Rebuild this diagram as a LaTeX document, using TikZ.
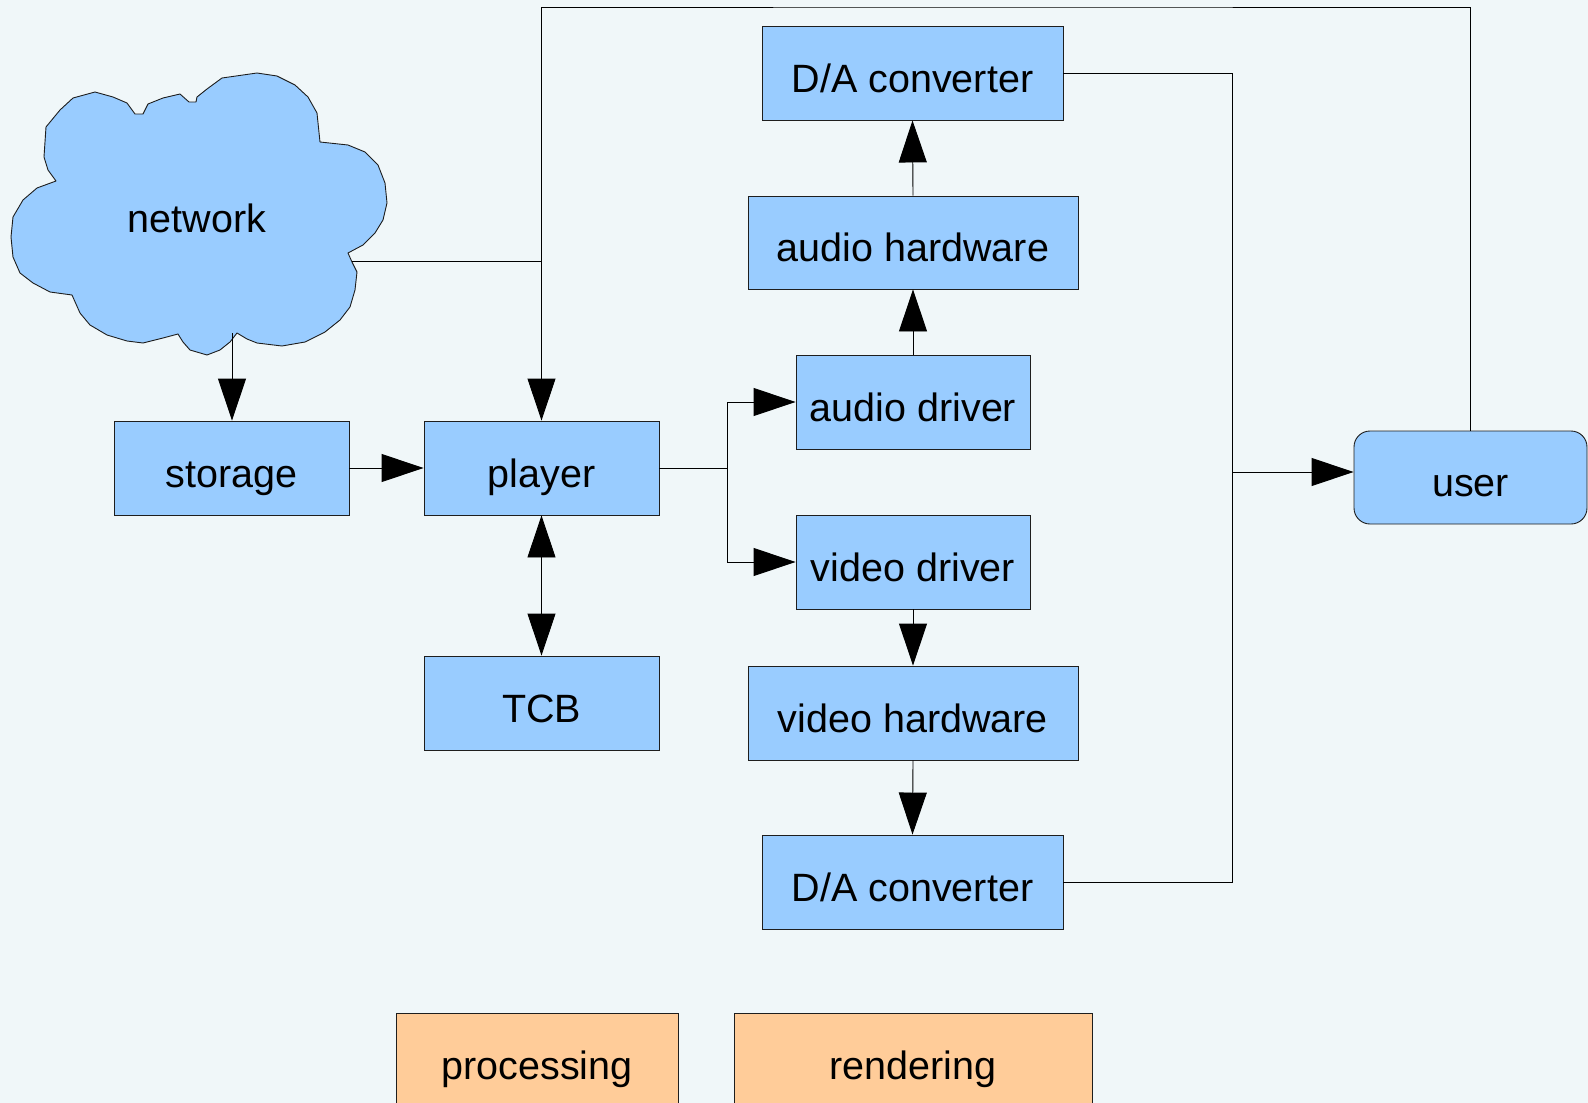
\documentclass[tikz,border=0pt]{standalone}
\usepackage{fontspec}
\setmainfont{Liberation Sans}
\usetikzlibrary{arrows.meta,calc}
\definecolor{bgcol}{RGB}{240,247,249}
\definecolor{boxblue}{RGB}{153,204,255}
\definecolor{boxorange}{RGB}{255,204,153}
\definecolor{edgecol}{RGB}{30,30,30}
\begin{document}
\begin{tikzpicture}[x=1pt,y=-1pt,
  font=\fontsize{39.5}{46}\selectfont,
  blockbox/.style={draw=edgecol,line width=0.9pt,fill=boxblue,inner sep=0pt,minimum height=94pt,text height=38pt,text depth=0pt},
  legendbox/.style={draw=edgecol,line width=0.9pt,fill=boxorange,inner sep=0pt,minimum height=94pt,text height=38pt,text depth=0pt},
  conn/.style={draw=black,line width=0.9pt},
  arr/.style={conn,-{Triangle[length=42pt,width=28pt]}},
  arrtwo/.style={conn,{Triangle[length=42pt,width=28pt]}-{Triangle[length=42pt,width=28pt]}}]
\fill[bgcol] (0,0) rectangle (1588,1103);
\useasboundingbox (0,0) rectangle (1588,1103);

% cloud
\draw[edgecol,line width=0.9pt,fill=boxblue,line join=round]
 (222,78) -- (257,73) -- (277,76) -- (295,85) -- (308,97) -- (317,113) -- (320,142)
 -- (348,145) -- (365,152) -- (378,165) -- (385,183) -- (387,203) -- (383,220)
 -- (375,233) -- (363,245) -- (348,253) -- (352,262) -- (357,272) -- (355,290)
 -- (350,307) -- (340,320) -- (325,332) -- (305,342) -- (282,346) -- (257,343)
 -- (247,339) -- (237,333) -- (230,342) -- (220,350) -- (207,355) -- (190,350)
 -- (183,342) -- (178,334) -- (163,338) -- (143,343) -- (127,341) -- (107,335)
 -- (90,325) -- (80,313) -- (72,295) -- (50,292) -- (33,283) -- (20,273)
 -- (13,257) -- (11,237) -- (13,217) -- (23,200) -- (37,188) -- (56,181)
 -- (48,170) -- (44,157) -- (46,127) -- (60,110) -- (73,98) -- (95,92)
 -- (113,97) -- (127,103) -- (135,114) -- (143,114) -- (148,104) -- (163,98)
 -- (180,94) -- (189,102) -- (196,102) -- (197,97) -- (207,89) -- cycle;
\node (network) at (197,218) {network};
\coordinate (netE) at (352,261);
\coordinate (netS) at (232,333);

% blocks
\node[blockbox,minimum width=301pt] (daTop) at (912.5,73) {D/A converter};
\node[blockbox,minimum width=330pt,minimum height=93pt] (audioHW) at (913,242.5) {audio hardware};
\node[blockbox,minimum width=234pt] (audioDrv) at (913,402) {audio driver};
\node[blockbox,minimum width=234pt] (videoDrv) at (913,562) {video driver};
\node[blockbox,minimum width=330pt] (videoHW) at (913,713) {video hardware};
\node[blockbox,minimum width=301pt] (daBot) at (912.5,882) {D/A converter};
\node[blockbox,minimum width=235pt] (storage) at (231.5,468) {storage};
\node[blockbox,minimum width=235pt] (player) at (541.5,468) {player};
\node[blockbox,minimum width=235pt] (tcb) at (541.5,703) {TCB};
\node[blockbox,minimum width=233pt,minimum height=93pt,rounded corners=16pt] (user) at (1470.5,477.5) {user};
\node[legendbox,minimum width=282pt] (processing) at (537,1060) {processing};
\node[legendbox,minimum width=358pt] (rendering) at (913,1060) {rendering};

% connectors
\coordinate (topline) at (1000,7);
\coordinate (split) at (727,468);
\coordinate (merge) at (1232,472);

\draw[arr] (netS) -- (netS |- storage.north);
\draw[conn] (netE) -- (netE -| player.north);
\draw[arr] (user.north) |- (topline) -| (player.north);
\draw[arr] (storage.east) -- (player.west);
\draw[arrtwo] (player.south) -- (tcb.north);
\draw[conn] (player.east) -- (split);
\draw[arr] (split) |- (audioDrv.west);
\draw[arr] (split) |- (videoDrv.west);
\draw[arr] (audioDrv.north) -- (audioHW.south);
\draw[arr] (audioHW.north) -- (daTop.south);
\draw[arr] (videoDrv.south) -- (videoHW.north);
\draw[arr] (videoHW.south) -- (daBot.north);
\draw[conn] (daTop.east) -| (merge);
\draw[conn] (daBot.east) -| (merge);
\draw[arr] (merge) -- (merge -| user.west);
\end{tikzpicture}
\end{document}
